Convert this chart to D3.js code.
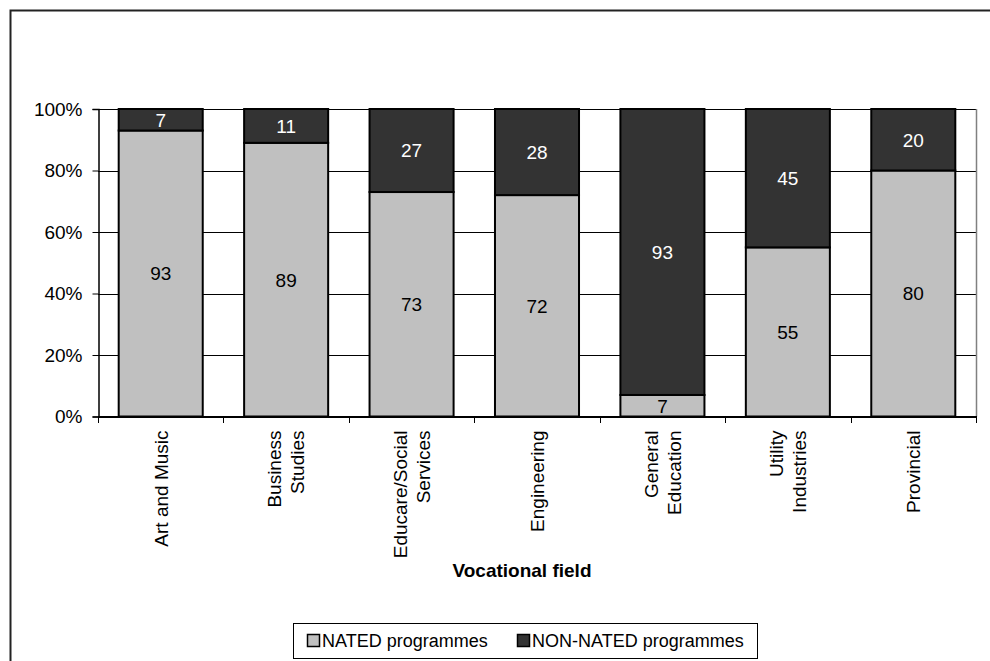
<!DOCTYPE html>
<html>
<head>
<meta charset="utf-8">
<script src="https://cdn.jsdelivr.net/npm/d3@7"></script>
<style>
  html, body { margin: 0; padding: 0; background: #fff; }
  svg { display: block; font-family: Arial, "Liberation Sans", sans-serif; }
</style>
</head>
<body>
<svg id="chart" width="990" height="661"></svg>
<script>
// Share of students by vocational field, NATED vs NON-NATED programmes (%)
const categories = [
  ["Art and Music"],
  ["Business", "Studies"],
  ["Educare/Social", "Services"],
  ["Engineering"],
  ["General", "Education"],
  ["Utility", "Industries"],
  ["Provincial"]
];
const natedValues = [93, 89, 73, 72, 7, 55, 80];
const nonNatedValues = [7, 11, 27, 28, 93, 45, 20];
const yTicks = [0, 20, 40, 60, 80, 100];
const seriesNames = ["NATED programmes", "NON-NATED programmes"];
const seriesColors = ["#c0c0c0", "#333333"];
const labelColors = ["#000000", "#ffffff"];

const FONT = 19;
const svg = d3.select("#chart");
const plot = { left: 98, right: 976, top: 109, bottom: 416.5 };

// outer chart frame (runs off the right and bottom edges)
svg.append("path")
  .attr("d", "M10.5,1000 L10.5,10.5 L1000,10.5")
  .attr("fill", "none").attr("stroke", "#222").attr("stroke-width", 2);

const keys = categories.map(c => c.join(" "));
const x = d3.scaleBand().domain(keys).range([plot.left, plot.right]).paddingInner(0.33).paddingOuter(0.165);
const y = d3.scaleLinear().domain([0, 100]).range([plot.bottom, plot.top]);

// gridlines
svg.append("g").selectAll("line").data(yTicks.filter(t => t > 0)).join("line")
  .attr("x1", plot.left).attr("x2", plot.right)
  .attr("y1", d => Math.round(y(d)) + 0.5).attr("y2", d => Math.round(y(d)) + 0.5)
  .attr("stroke", "#000").attr("stroke-width", 1);

// plot area right border
svg.append("line")
  .attr("x1", plot.right + 0.5).attr("x2", plot.right + 0.5)
  .attr("y1", plot.top).attr("y2", plot.bottom)
  .attr("stroke", "#808080").attr("stroke-width", 1.5);

// stacked bars
const rows = keys.map((k, i) => ({ key: k, NATED: natedValues[i], NON: nonNatedValues[i] }));
const stacked = d3.stack().keys(["NATED", "NON"])(rows);

stacked.forEach((layer, li) => {
  const g = svg.append("g");
  g.selectAll("rect").data(layer).join("rect")
    .attr("x", d => x(d.data.key))
    .attr("y", d => y(d[1]))
    .attr("width", x.bandwidth())
    .attr("height", d => y(d[0]) - y(d[1]))
    .attr("fill", seriesColors[li])
    .attr("stroke", "#000").attr("stroke-width", 2);
  g.selectAll("text").data(layer).join("text")
    .attr("x", d => x(d.data.key) + x.bandwidth() / 2)
    .attr("y", d => (y(d[0]) + y(d[1])) / 2)
    .attr("dy", "0.36em")
    .attr("text-anchor", "middle")
    .attr("font-size", FONT)
    .attr("fill", labelColors[li])
    .text(d => d[1] - d[0]);
});

// y axis
const yAxis = svg.append("g")
  .attr("transform", `translate(${plot.left + 0.5},0)`)
  .call(d3.axisLeft(y).tickValues(yTicks).tickFormat(d => d + "%").tickSize(6).tickPadding(10));
yAxis.select(".domain").attr("stroke", "#000").attr("stroke-width", 1.5);
yAxis.selectAll(".tick line").attr("stroke", "#000");
yAxis.selectAll(".tick text").attr("font-size", FONT).attr("fill", "#000")
  .attr("font-family", "Arial, 'Liberation Sans', sans-serif");

// x axis
const xAxis = svg.append("g").attr("transform", `translate(0,${plot.bottom + 0.5})`);
xAxis.append("line").attr("x1", plot.left).attr("x2", plot.right + 1)
  .attr("stroke", "#000").attr("stroke-width", 2);
const boundaries = keys.map(k => x(k) - x.step() * x.paddingInner() / 2).concat([plot.right]);
xAxis.selectAll(".sep").data(boundaries).join("line")
  .attr("x1", d => Math.round(d) + 0.5).attr("x2", d => Math.round(d) + 0.5)
  .attr("y1", 0).attr("y2", 6).attr("stroke", "#000");

// rotated category labels, top-aligned just under the axis
const labelGroups = svg.append("g").selectAll("g").data(categories).join("g")
  .attr("transform", (d, i) => `translate(${x(keys[i]) + x.bandwidth() / 2},${plot.bottom + 14}) rotate(-90)`);
labelGroups.each(function(lines) {
  const t = d3.select(this).append("text")
    .attr("text-anchor", "end")
    .attr("font-size", FONT).attr("fill", "#000");
  const n = lines.length;
  lines.forEach((ln, j) => {
    t.append("tspan")
      .attr("x", 0)
      .attr("y", (j - (n - 1) / 2) * 23)
      .attr("dy", "0.36em")
      .text(ln);
  });
});

// axis title
svg.append("text")
  .attr("x", 522).attr("y", 577)
  .attr("text-anchor", "middle")
  .attr("font-size", FONT).attr("font-weight", "bold").attr("fill", "#000")
  .text("Vocational field");

// legend
const legend = svg.append("g");
legend.append("rect")
  .attr("x", 293.5).attr("y", 623.5).attr("width", 464).attr("height", 35)
  .attr("fill", "#fff").attr("stroke", "#000").attr("stroke-width", 1);
const legendX = [307, 517];
seriesNames.forEach((name, i) => {
  legend.append("rect")
    .attr("x", legendX[i] + 0.5).attr("y", 634.5).attr("width", 12).attr("height", 12)
    .attr("fill", seriesColors[i]).attr("stroke", "#000").attr("stroke-width", 1.5);
  legend.append("text")
    .attr("x", legendX[i] + 15).attr("y", 641).attr("dy", "0.36em")
    .attr("font-size", 18).attr("fill", "#000")
    .text(name);
});
</script>
</body>
</html>
